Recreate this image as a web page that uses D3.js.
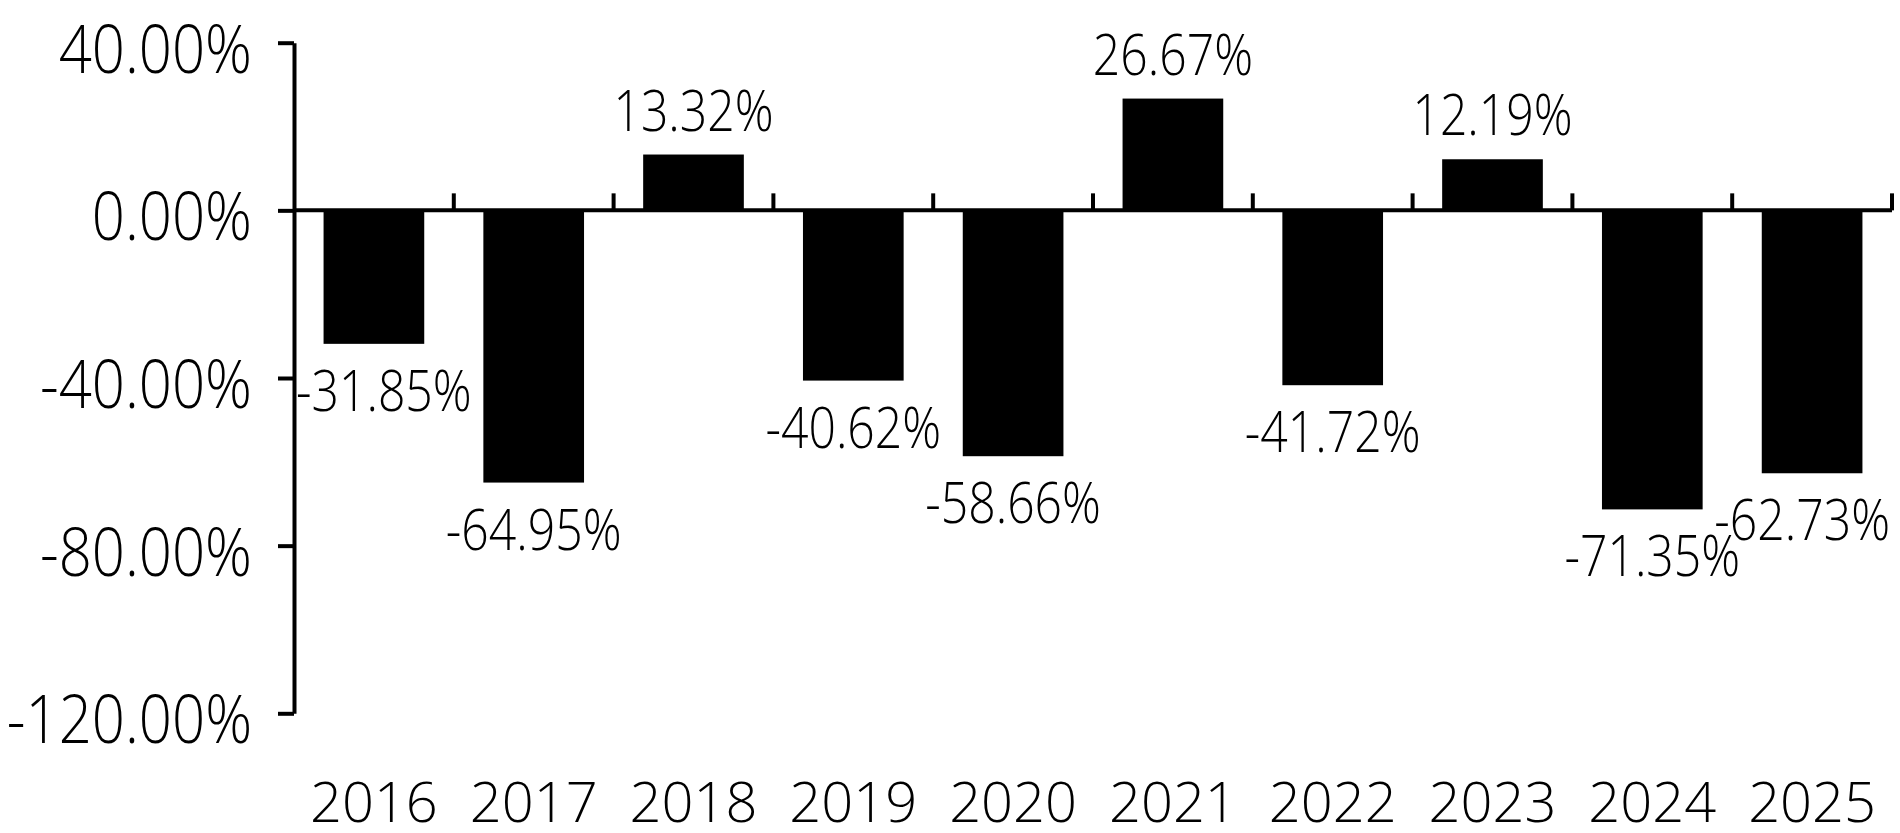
<!DOCTYPE html>
<html>
<head>
<meta charset="utf-8">
<script src="https://cdn.jsdelivr.net/npm/d3@7"></script>
<style>
  html, body { margin: 0; padding: 0; background: #fff; }
  svg { display: block; }
  text { font-family: "Open Sans", "Noto Sans", sans-serif; font-weight: 300; fill: #000; }
</style>
</head>
<body>
<svg id="chart" width="1900" height="833"></svg>
<script>
const categories = ["2016","2017","2018","2019","2020","2021","2022","2023","2024","2025"];
const values = [-31.85, -64.95, 13.32, -40.62, -58.66, 26.67, -41.72, 12.19, -71.35, -62.73];
const yTicks = [40, 0, -40, -80, -120];

const W = 1900, H = 833;
const mLeft = 294, mRight = 1892, mTop = 42.7, mBottom = 713.3;
const svg = d3.select("#chart");

const y = d3.scaleLinear().domain([-120, 40]).range([mBottom, mTop]);
const xBand = d3.scaleBand().domain(categories).range([mLeft, mRight]).padding(0);
const xBar = d3.scaleBand().domain(categories).range([mLeft, mRight])
  .paddingInner(0.37).paddingOuter(0.185);
const step = xBand.step();
const fmt = v => v.toFixed(2) + "%";

// bars
svg.append("g").selectAll("rect").data(values).join("rect")
  .attr("x", (d, i) => xBar(categories[i]))
  .attr("width", xBar.bandwidth())
  .attr("y", d => y(Math.max(0, d)))
  .attr("height", d => Math.abs(y(d) - y(0)))
  .attr("fill", "#000");

// y axis
const yAxis = svg.append("g").attr("transform", `translate(${mLeft},0)`)
  .call(d3.axisLeft(y).tickValues(yTicks).tickSize(16).tickSizeOuter(0).tickFormat(fmt));
yAxis.select(".domain").attr("stroke", "#000").attr("stroke-width", 4);
yAxis.selectAll(".tick line").attr("stroke", "#000").attr("stroke-width", 4);
yAxis.selectAll(".tick text").remove();
yAxis.selectAll(".tick").append("text")
  .attr("text-anchor", "end")
  .attr("font-size", 66)
  .attr("transform", "translate(-42,29.5) scale(0.88,1)")
  .text(d => fmt(d));

// x axis (zero line with upward ticks at category boundaries)
const xg = svg.append("g");
xg.append("line")
  .attr("x1", mLeft).attr("x2", mRight)
  .attr("y1", y(0)).attr("y2", y(0))
  .attr("stroke", "#000").attr("stroke-width", 4);
xg.selectAll("line.tk").data(categories).join("line").attr("class", "tk")
  .attr("x1", d => xBand(d) + step).attr("x2", d => xBand(d) + step)
  .attr("y1", y(0)).attr("y2", y(0) - 17)
  .attr("stroke", "#000").attr("stroke-width", 4);

// category labels
svg.append("g").selectAll("text").data(categories).join("text")
  .attr("text-anchor", "middle")
  .attr("font-size", 56)
  .attr("x", d => xBand(d) + step / 2)
  .attr("y", 822)
  .text(d => d);

// data labels
const sx = 0.83;
const labels = svg.append("g").selectAll("g").data(values).join("g");
labels.append("text")
  .attr("text-anchor", "middle")
  .attr("font-size", 58)
  .attr("transform", `scale(${sx},1)`)
  .text(d => fmt(d));
labels.each(function(d, i) {
  const g = d3.select(this);
  const w = this.getBBox().width;   // already includes the child scale
  let cx = xBand(categories[i]) + step / 2;
  const minL = mLeft + 2, maxR = W - 10;
  if (cx - w / 2 < minL) cx = minL + w / 2;
  if (cx + w / 2 > maxR) cx = maxR - w / 2;
  const by = d >= 0 ? y(d) - 24 : y(d) + 67;
  g.attr("transform", `translate(${cx},${by})`);
});
</script>
</body>
</html>
